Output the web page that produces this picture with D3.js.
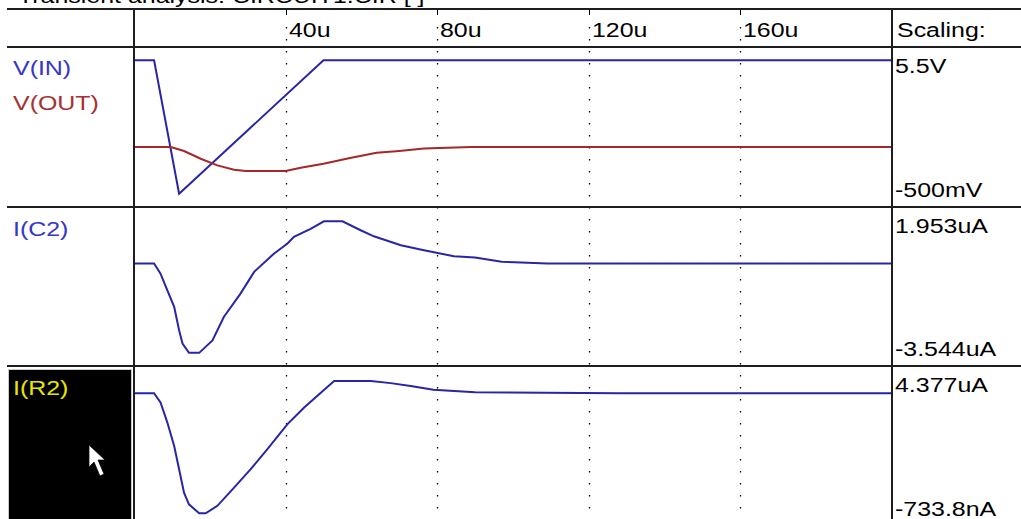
<!DOCTYPE html>
<html>
<head>
<meta charset="utf-8">
<script src="https://cdn.jsdelivr.net/npm/d3@7"></script>
<style>
  body { margin: 0; background: #fff; }
  svg { display: block; }
  text { font-family: "Liberation Sans", Arial, sans-serif; }
</style>
</head>
<body>
<svg id="chart" width="1021" height="519"></svg>
<script>
// time axis (microseconds)
const tickValues = [40, 80, 120, 160];
const tickLabels = ["40u", "80u", "120u", "160u"];

// V(IN)
const tVin = [0, 5.3, 11.9, 50, 200];
const vIn = [5, 5, 0, 5, 5];

// V(OUT)
const tVout = [0, 9.7, 13.2, 17.6, 22, 26.4, 29.5, 40, 44, 50, 57, 64, 70, 76.5, 89, 200];
const vOut = [1.75, 1.75, 1.6, 1.31, 1.06, 0.9, 0.85, 0.85, 0.97, 1.12, 1.34, 1.53, 1.6, 1.69, 1.75, 1.75];

// I(C2) in uA
const tIc2 = [0, 5.3, 7, 8.8, 10.6, 11.9, 12.8, 14.5, 17.2, 20.7, 23.7, 28.1, 31.7, 36.9, 40.5, 42.2, 46.6, 50.1, 55, 59.8, 63.3, 70.4, 76.5, 84.4, 90, 97, 109, 200];
const iC2 = [0, 0, -0.35, -0.93, -1.5, -2.31, -2.77, -3.09, -3.09, -2.66, -1.85, -1.04, -0.29, 0.34, 0.69, 0.92, 1.2, 1.46, 1.46, 1.15, 0.94, 0.63, 0.46, 0.25, 0.21, 0.06, 0, 0];

// I(R2) in uA
const tIr2 = [0, 5.3, 7, 8.8, 10.6, 11.9, 13.2, 14.5, 17.2, 18.9, 22, 26.4, 30.8, 35.2, 40.5, 44.9, 52.8, 62.5, 67.7, 73, 79, 90, 128, 200];
const iR2 = [3.505, 3.505, 3.21, 2.57, 1.82, 1.08, 0.33, -0.04, -0.33, -0.33, -0.09, 0.49, 1.08, 1.72, 2.52, 3.05, 3.9, 3.9, 3.83, 3.74, 3.62, 3.54, 3.505, 3.505];

// per-panel scaling
const scaleMax = [5.5, 1.953, 4.377];
const scaleMin = [-0.5, -3.544, -0.7338];
const scaleMaxLabels = ["5.5V", "1.953uA", "4.377uA"];
const scaleMinLabels = ["-500mV", "-3.544uA", "-733.8nA"];

const blue = "#2626a6", red = "#a32828";

const svg = d3.select("#chart");
const W = 1021, left = 134, right = 892;
const headerTop = 9, headerBottom = 47;
const panelTops = [47, 207, 366], panelBottoms = [207, 366, 526];

const x = d3.scaleLinear().domain([0, 200]).range([left, right]);

// label helper: the original font renders wide
function label(g, px, py, str, color) {
	return g.append("text")
		.attr("transform", "translate(" + px + "," + py + ") scale(1.28,1)")
		.attr("font-size", 19.5)
		.attr("fill", color || "#000")
		.text(str);
}

svg.append("clipPath").attr("id", "plotClip")
	.append("rect").attr("x", left + 1).attr("y", headerBottom).attr("width", right - left - 2).attr("height", 519 - headerBottom);

// title (cut off at the top, as in the capture)
label(svg, 18, 3, "Transient analysis: CIRCUIT1.CIR [ ]");

// grid dots
const grid = svg.append("g");
grid.selectAll("line.tick")
	.data(tickValues)
	.enter().append("line")
	.attr("x1", d => Math.round(x(d)) + 0.5).attr("x2", d => Math.round(x(d)) + 0.5)
	.attr("y1", headerTop).attr("y2", headerTop + 6)
	.attr("stroke", "#000");
grid.selectAll("line.dots")
	.data(tickValues)
	.enter().append("line")
	.attr("x1", d => Math.round(x(d)) + 0.5).attr("x2", d => Math.round(x(d)) + 0.5)
	.attr("y1", 27).attr("y2", 519)
	.attr("stroke", "#000")
	.attr("stroke-width", 1.3)
	.attr("stroke-dasharray", "1.6,10.4");

// tick labels in the header
const tickG = svg.append("g");
tickLabels.forEach((s, i) => label(tickG, Math.round(x(tickValues[i])) + 3, 37, s));
label(svg, 897, 37, "Scaling:");

// traces
const series = [
	{ panel: 0, t: tVin, v: vIn, color: blue },
	{ panel: 0, t: tVout, v: vOut, color: red },
	{ panel: 1, t: tIc2, v: iC2, color: blue },
	{ panel: 2, t: tIr2, v: iR2, color: blue }
];

const yScales = panelTops.map((top, i) =>
	d3.scaleLinear().domain([scaleMin[i], scaleMax[i]]).range([panelBottoms[i], top]));

const traces = svg.append("g").attr("clip-path", "url(#plotClip)");
series.forEach(s => {
	const y = yScales[s.panel];
	const line = d3.line()
		.x((d, i) => x(s.t[i]))
		.y(d => y(d));
	traces.append("path")
		.attr("d", line(s.v))
		.attr("fill", "none")
		.attr("stroke", s.color)
		.attr("stroke-width", 2);
});

// scaling labels
const scaleG = svg.append("g");
panelTops.forEach((top, i) => {
	label(scaleG, 895, top + 26, scaleMaxLabels[i]);
	label(scaleG, 895, panelBottoms[i] - 10, scaleMinLabels[i]);
});

// trace names
label(svg, 13, 75, "V(IN)", "#3636c8");
label(svg, 13, 110, "V(OUT)", "#a83030");
label(svg, 13, 236, "I(C2)", "#3636c8");

// selected trace box
svg.append("rect")
	.attr("x", 8.5).attr("y", 369.5).attr("width", 123).attr("height", 160)
	.attr("fill", "#000").attr("stroke", "#c8c8c8");
label(svg, 13, 395, "I(R2)", "#e6e600");
svg.append("path")
	.attr("d", "M89,445 L89,467 L94,462 L100,476 L104,474 L98,460 L105,460 Z")
	.attr("fill", "#fff").attr("stroke", "#000").attr("stroke-width", 0.7);

// frame
const frame = svg.append("g").attr("stroke", "#1e1e1e").attr("stroke-width", 2);
[headerTop, headerBottom, panelTops[1], panelTops[2]].forEach(yy => {
	frame.append("line").attr("x1", 7).attr("x2", W).attr("y1", yy).attr("y2", yy);
});
[left, right].forEach(xx => {
	frame.append("line").attr("x1", xx).attr("x2", xx).attr("y1", headerTop).attr("y2", 519);
});
</script>
</body>
</html>
